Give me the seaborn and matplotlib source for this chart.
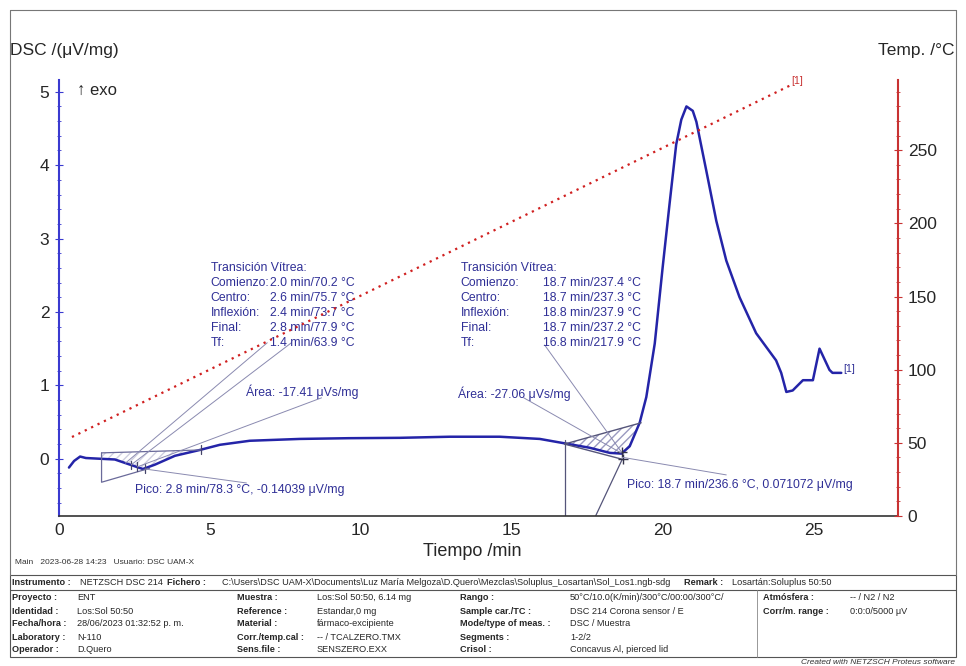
import numpy as np
import matplotlib
matplotlib.use("Agg")
import matplotlib.pyplot as plt
import matplotlib.patches as mpatches
from matplotlib.lines import Line2D
import seaborn as sns

# DSC signal (time in min, DSC in uV/mg)
time_min = [0.33, 0.50, 0.70, 0.89, 1.36, 1.85, 2.35, 2.78, 3.18, 3.84, 4.67, 5.33,
            6.32, 7.98, 9.60, 11.29, 12.95, 14.60, 15.93, 16.89, 17.58, 18.25, 18.64,
            18.91, 19.24, 19.46, 19.74, 20.00, 20.23, 20.45, 20.62, 20.79, 21.00, 21.12,
            21.45, 21.78, 22.11, 22.55, 23.10, 23.76, 23.93, 24.10, 24.31, 24.65, 24.98,
            25.20, 25.53, 25.63, 25.92]
dsc = [-0.12, -0.03, 0.03, 0.01, 0.00, -0.01, -0.08, -0.14, -0.08, 0.04, 0.12, 0.19,
       0.245, 0.27, 0.28, 0.285, 0.30, 0.30, 0.27, 0.20, 0.15, 0.08, 0.07,
       0.17, 0.49, 0.84, 1.57, 2.60, 3.47, 4.28, 4.62, 4.80, 4.74, 4.59,
       3.92, 3.24, 2.70, 2.20, 1.71, 1.34, 1.17, 0.91, 0.93, 1.07, 1.07,
       1.50, 1.21, 1.17, 1.17]

# temperature program (dotted red line)
temp_time = [0.43, 24.2]
temp_c = [54, 294]

# glass transition 1 construction
gt1_upper_t = [1.41, 4.72]
gt1_upper_y = [0.08, 0.12]
gt1_lower_t = [1.41, 1.41, 3.00]
gt1_lower_y = [0.08, -0.32, -0.13]
gt1_marks_t = [2.38, 2.57, 2.85, 4.72]

# glass transition 2 construction
gt2_upper_t = [16.75, 19.29]
gt2_upper_y = [0.20, 0.49]
gt2_lower_t = [16.75, 18.69]
gt2_lower_y = [0.20, -0.01]
gt2_vert_t = [16.75, 16.75]
gt2_vert_y = [0.26, -0.78]
gt2_slant_t = [18.66, 17.78]
gt2_slant_y = [-0.01, -0.78]

gt1_lines = ["Transición Vítrea:", "Comienzo:", "Centro:", "Inflexión:", "Final:", "Tf:"]
gt1_vals = ["", "2.0 min/70.2 °C", "2.6 min/75.7 °C", "2.4 min/73.7 °C",
            "2.8 min/77.9 °C", "1.4 min/63.9 °C"]
gt2_vals = ["", "18.7 min/237.4 °C", "18.7 min/237.3 °C", "18.8 min/237.9 °C",
            "18.7 min/237.2 °C", "16.8 min/217.9 °C"]

BLUE = "#2424a8"
TXT = "#2f2f96"
RED = "#c83232"
GREY = "#8a8ab0"

sns.set_style("white")
plt.rcParams['font.family'] = ['Liberation Sans', 'DejaVu Sans']

W, H = 966, 666
fig = plt.figure(figsize=(9.66, 6.66), dpi=100)


def fx(px):
    return px / W


def fy(py):
    return 1 - py / H


ax = fig.add_axes([fx(59), fy(516), fx(898) - fx(59), fy(80) - fy(516)])
ax2 = ax.twinx()

sns.lineplot(x=time_min, y=dsc, ax=ax, color=BLUE, linewidth=1.8)
sns.lineplot(x=temp_time, y=temp_c, ax=ax2, color="#d02020", linewidth=1.6,
             linestyle=(0, (1, 2.2)))

ax.set_xlim(0, 27.8)
ax.set_ylim(-0.78, 5.16)
ax2.set_ylim(0, 298)

# construction lines
ax.plot(gt1_upper_t, gt1_upper_y, color="#6a6a9a", lw=0.9)
ax.plot(gt1_lower_t, gt1_lower_y, color="#6a6a9a", lw=0.9)
for t in gt1_marks_t:
    yv = np.interp(t, time_min, dsc)
    ax.plot([t, t], [yv - 0.06, yv + 0.06], color="#44446a", lw=0.9)

ax.plot(gt2_upper_t, gt2_upper_y, color="#55557a", lw=1.0)
ax.plot(gt2_lower_t, gt2_lower_y, color="#55557a", lw=1.0)
ax.plot(gt2_vert_t, gt2_vert_y, color="#55557a", lw=0.9)
ax.plot(gt2_slant_t, gt2_slant_y, color="#55557a", lw=0.9)
ax.plot([18.64, 18.69], [0.09, -0.01], marker="+", ls="none", color="#33334a", ms=7)

# hatched areas between tangent and curve
tt = np.linspace(gt2_upper_t[0], gt2_upper_t[1], 60)
ax.fill_between(tt, np.interp(tt, gt2_upper_t, gt2_upper_y), np.interp(tt, time_min, dsc),
                facecolor="none", edgecolor="#9a9ac0", hatch="////", lw=0)
tt1 = np.linspace(gt1_upper_t[0], gt1_upper_t[1], 60)
ax.fill_between(tt1, np.interp(tt1, gt1_upper_t, gt1_upper_y), np.interp(tt1, time_min, dsc),
                facecolor="none", edgecolor="#d0d0e0", hatch="////", lw=0)

# leader lines
leaders = [((2.40, -0.08), (7.70, 1.58)), ((2.60, -0.11), (8.70, 0.83)),
           ((2.20, -0.06), (6.90, 1.58)), ((2.85, -0.14), (6.21, -0.33)),
           ((18.64, 0.09), (16.09, 1.55)), ((18.62, 0.08), (15.40, 0.83)),
           ((18.66, 0.02), (22.11, -0.22))]
for (x0, y0), (x1, y1) in leaders:
    ax.plot([x0, x1], [y0, y1], color=GREY, lw=0.7)

# annotation texts
AFS = 8.8
rows_y = [2.60, 2.40, 2.19, 1.99, 1.78, 1.58]
for i, lab in enumerate(gt1_lines):
    ax.text(5.03, rows_y[i], lab, color=TXT, fontsize=AFS, va="center")
    ax.text(13.31, rows_y[i], lab, color=TXT, fontsize=AFS, va="center")
    if gt1_vals[i]:
        ax.text(6.98, rows_y[i], gt1_vals[i], color=TXT, fontsize=AFS, va="center")
        ax.text(16.05, rows_y[i], gt2_vals[i], color=TXT, fontsize=AFS, va="center")

ax.text(6.19, 0.91, "Área: -17.41 μVs/mg", color=TXT, fontsize=AFS, va="center")
ax.text(13.21, 0.89, "Área: -27.06 μVs/mg", color=TXT, fontsize=AFS, va="center")
ax.text(2.52, -0.42, "Pico: 2.8 min/78.3 °C, -0.14039 μV/mg", color=TXT, fontsize=AFS, va="center")
ax.text(18.81, -0.36, "Pico: 18.7 min/236.6 °C, 0.071072 μV/mg", color=TXT, fontsize=AFS, va="center")
ax.text(25.98, 1.22, "[1]", color=TXT, fontsize=7.5, va="center")
ax2.text(24.25, 297, "[1]", color=RED, fontsize=7.5, va="center")

# axes styling
ax.set_xlabel("")
ax.set_ylabel("")
ax2.set_ylabel("")
ax.spines["top"].set_visible(False)
ax.spines["right"].set_visible(False)
ax2.spines["top"].set_visible(False)
ax2.spines["left"].set_visible(False)
ax2.spines["bottom"].set_visible(False)
ax.spines["left"].set_color("#3a3ad0")
ax.spines["left"].set_linewidth(1.5)
ax.spines["bottom"].set_color("#333333")
ax.spines["bottom"].set_linewidth(1.2)
ax2.spines["right"].set_color(RED)
ax2.spines["right"].set_linewidth(1.5)

ax.set_xticks(np.arange(0, 26, 5))
ax.set_xticks(np.arange(0, 28, 1), minor=True)
ax.set_yticks(np.arange(0, 6, 1))
ax.set_yticks(np.arange(-0.6, 5.2, 0.2), minor=True)
ax2.set_yticks(np.arange(0, 251, 50))
ax2.set_yticks(np.arange(0, 298, 10), minor=True)

ax.tick_params(axis="x", which="major", direction="out", length=4, color="#333333",
               labelsize=12.5, pad=1)
ax.tick_params(axis="x", which="minor", direction="out", length=3, color="#333333")
ax.tick_params(axis="y", which="major", direction="inout", length=6, color="#3a3ad0",
               labelsize=12.5, pad=4)
ax.tick_params(axis="y", which="minor", direction="inout", length=3, color="#3a3ad0")
ax2.tick_params(axis="y", which="major", direction="inout", length=6, color=RED,
                labelsize=12.5, pad=4)
ax2.tick_params(axis="y", which="minor", direction="inout", length=3, color=RED)

# titles / labels in figure space
fig.text(fx(10), fy(50), "DSC /(μV/mg)", fontsize=12.5, va="center", ha="left")
fig.text(fx(955), fy(50), "Temp. /°C", fontsize=12.5, va="center", ha="right")
fig.text(fx(77), fy(90), "↑ exo", fontsize=12, va="center", ha="left")
fig.text(fx(472), fy(551), "Tiempo /min", fontsize=13, va="center", ha="center")
fig.text(fx(15), fy(563), "Main   2023-06-28 14:23   Usuario: DSC UAM-X", fontsize=6,
         va="center", ha="left", color="#333333")

# outer frame and footer table
frame_c = "#777777"
fig.add_artist(Line2D([fx(10), fx(956)], [fy(10), fy(10)], color=frame_c, lw=0.8))
fig.add_artist(Line2D([fx(10), fx(10)], [fy(10), fy(575)], color=frame_c, lw=0.8))
fig.add_artist(Line2D([fx(956), fx(956)], [fy(10), fy(575)], color=frame_c, lw=0.8))
fig.add_artist(mpatches.Rectangle((fx(10), fy(657)), fx(956) - fx(10), fy(575) - fy(657),
                                  transform=fig.transFigure, fill=False,
                                  edgecolor="#555555", lw=0.8))
fig.add_artist(Line2D([fx(10), fx(956)], [fy(590), fy(590)], color="#555555", lw=0.8))
fig.add_artist(Line2D([fx(757), fx(757)], [fy(590), fy(657)], color="#888888", lw=0.6))

FS = 6.6
header = [(12, "Instrumento :", True), (80, "NETZSCH DSC 214", False), (167, "Fichero :", True),
          (222, "C:\\Users\\DSC UAM-X\\Documents\\Luz María Melgoza\\D.Quero\\Mezclas\\Soluplus_Losartan\\Sol_Los1.ngb-sdg", False),
          (684, "Remark :", True), (732, "Losartán:Soluplus 50:50", False)]
for px, s, b in header:
    fig.text(fx(px), fy(582.5), s, fontsize=FS, fontweight="bold" if b else "normal",
             va="center", ha="left")

row_py = [598, 611, 624, 637, 650]
col_labels = [
    (12, ["Proyecto :", "Identidad :", "Fecha/hora :", "Laboratory :", "Operador :"]),
    (237, ["Muestra :", "Reference :", "Material :", "Corr./temp.cal :", "Sens.file :"]),
    (460, ["Rango :", "Sample car./TC :", "Mode/type of meas. :", "Segments :", "Crisol :"]),
    (763, ["Atmósfera :", "Corr/m. range :"]),
]
col_values = [
    (77, ["ENT", "Los:Sol 50:50", "28/06/2023 01:32:52 p. m.", "N-110", "D.Quero"]),
    (317, ["Los:Sol 50:50, 6.14 mg", "Estandar,0 mg", "fármaco-excipiente",
           "-- / TCALZERO.TMX", "SENSZERO.EXX"]),
    (570, ["50°C/10.0(K/min)/300°C/00:00/300°C/", "DSC 214 Corona sensor / E",
           "DSC / Muestra", "1-2/2", "Concavus Al, pierced lid"]),
    (850, ["-- / N2 / N2", "0:0:0/5000 μV"]),
]
for px, labs in col_labels:
    for i, s in enumerate(labs):
        fig.text(fx(px), fy(row_py[i]), s, fontsize=FS, fontweight="bold", va="center")
for px, vals in col_values:
    for i, s in enumerate(vals):
        fig.text(fx(px), fy(row_py[i]), s, fontsize=FS, va="center")

fig.text(fx(955), fy(662), "Created with NETZSCH Proteus software", fontsize=6,
         style="italic", ha="right", va="center", color="#333333")

fig.savefig("out.png", dpi=100)
